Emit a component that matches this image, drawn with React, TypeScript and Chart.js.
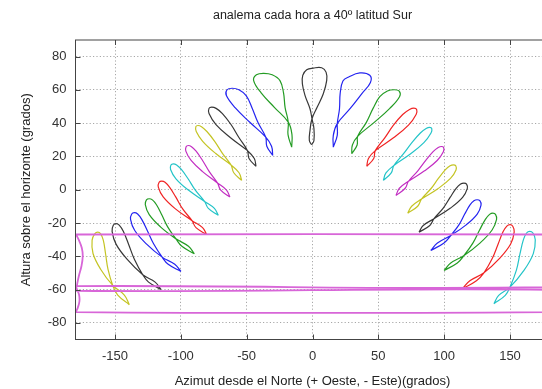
import React, { useEffect, useRef } from "react";
import { Chart, registerables } from "chart.js";
Chart.register(...registerables);

const titleText = "analema cada hora a 40º latitud Sur";
const xTitle = "Azimut desde el Norte (+ Oeste, - Este)(grados)";
const yTitle = "Altura sobre el horizonte (grados)";

const xTicks = [-150, -100, -50, 0, 50, 100, 150];
const yTicks = [-80, -60, -40, -20, 0, 20, 40, 60, 80];

// [azimut, altura], one analemma per hour
const h00 = [[-179.6,-26.9],[-177.6,-30.0],[-175.2,-35.0],[-174.5,-40.0],[-175.5,-46.0],[-177.5,-52.0],[-178.8,-57.0],[-179.6,-60.7],[179.6,-60.1],[178.5,-64.0],[177.8,-68.0],[178.6,-71.5],[179.6,-73.5],[-179.6,-73.5],[-178.3,-71.0],[-177.0,-67.0],[-177.3,-63.0],[-178.8,-60.0],[-179.6,-57.9],[179.6,-58.6],[178.5,-54.0],[177.2,-47.0],[176.8,-40.0],[177.5,-33.0],[178.8,-28.5],[179.6,-26.9],[-179.6,-26.9]];
const h01 = [[-139.1,-69.1],[-147.9,-63.3],[-151.7,-57.5],[-155.3,-47.9],[-157.2,-38.3],[-158.9,-30.3],[-160.9,-26.5],[-163.1,-25.5],[-165.4,-26.5],[-167.4,-30.3],[-166.7,-38.3],[-160.8,-47.9],[-151.7,-57.5],[-142.9,-63.3],[-139.1,-69.1]];
const h02 = [[-115.1,-59.9],[-124.5,-55.5],[-128.9,-51.1],[-135.2,-41.9],[-139.7,-32.7],[-143.7,-25.0],[-146.8,-21.3],[-149.2,-20.4],[-151.3,-21.3],[-152.2,-25.0],[-149.2,-32.7],[-140.7,-41.9],[-128.9,-51.1],[-119.5,-55.5],[-115.1,-59.9]];
const h03 = [[-99.9,-49.1],[-109.6,-44.8],[-114.2,-40.5],[-120.7,-32.5],[-125.5,-24.5],[-129.7,-17.8],[-132.8,-14.6],[-135.3,-13.8],[-137.3,-14.6],[-138.2,-17.8],[-135.0,-24.5],[-126.2,-32.5],[-114.2,-40.5],[-104.6,-44.8],[-99.9,-49.1]];
const h04 = [[-89.7,-38.5],[-99.2,-34.0],[-103.7,-29.5],[-110.0,-22.3],[-114.5,-15.0],[-118.5,-9.0],[-121.6,-6.1],[-124.0,-5.4],[-126.1,-6.1],[-127.0,-9.0],[-124.0,-15.0],[-115.5,-22.3],[-103.7,-29.5],[-94.2,-34.0],[-89.7,-38.5]];
const h05 = [[-80.4,-26.9],[-88.5,-22.8],[-91.5,-18.6],[-98.6,-11.5],[-103.9,-4.3],[-108.6,1.6],[-112.0,4.5],[-114.5,5.2],[-116.5,4.5],[-117.1,1.6],[-113.4,-4.3],[-104.1,-11.5],[-91.5,-18.6],[-83.5,-22.8],[-80.4,-26.9]];
const h06 = [[-71.5,-15.4],[-79.1,-11.2],[-82.0,-7.0],[-89.0,-0.2],[-94.5,6.6],[-99.6,12.2],[-103.2,14.9],[-105.7,15.6],[-107.5,14.9],[-107.8,12.2],[-103.7,6.6],[-94.3,-0.2],[-82.0,-7.0],[-74.5,-11.2],[-71.5,-15.4]];
const h07 = [[-62.7,-4.4],[-69.7,-0.2],[-72.2,4.1],[-78.4,10.9],[-83.5,17.6],[-88.4,23.2],[-91.9,25.9],[-94.3,26.6],[-96.0,25.9],[-96.2,23.2],[-92.2,17.6],[-83.5,10.9],[-72.2,4.1],[-65.3,-0.2],[-62.7,-4.4]];
const h08 = [[-53.8,5.6],[-59.8,10.2],[-61.8,14.8],[-68.4,21.9],[-74.3,29.1],[-80.2,35.0],[-84.3,37.9],[-87.0,38.6],[-88.6,37.9],[-88.3,35.0],[-83.4,29.1],[-73.7,21.9],[-61.8,14.8],[-55.8,10.2],[-53.8,5.6]];
const h09 = [[-42.9,14.0],[-48.2,18.8],[-49.4,23.5],[-55.9,31.4],[-61.9,39.2],[-68.4,45.8],[-73.2,48.9],[-76.5,49.7],[-78.6,48.9],[-78.6,45.8],[-73.3,39.2],[-62.5,31.4],[-49.4,23.5],[-44.2,18.8],[-42.9,14.0]];
const h10 = [[-30.2,20.6],[-34.7,26.1],[-35.5,31.6],[-41.4,40.4],[-45.9,49.2],[-50.4,56.6],[-55.9,60.1],[-61.0,61.0],[-64.9,60.1],[-65.4,56.6],[-58.6,49.2],[-47.4,40.4],[-35.5,31.6],[-31.1,26.1],[-30.2,20.6]];
const h11 = [[-15.8,25.6],[-18.6,33.1],[-18.4,40.6],[-20.8,49.4],[-22.0,58.2],[-24.7,65.6],[-30.6,69.1],[-37.0,70.0],[-42.6,69.1],[-44.7,65.6],[-39.0,58.2],[-28.8,49.4],[-18.4,40.6],[-15.6,33.1],[-15.8,25.6]];
const h12 = [[-0.6,27.0],[-2.4,29.6],[-1.9,35.6],[-0.4,42.7],[3.6,49.7],[8.2,57.7],[10.8,65.7],[10.3,70.7],[7.0,73.3],[0.6,73.1],[-4.4,72.1],[-7.4,68.7],[-7.7,63.7],[-5.7,56.7],[-1.9,48.7],[-0.4,42.7],[1.1,36.7],[1.1,29.6],[-0.6,27.0]];
const h13 = [[15.8,25.6],[15.8,32.7],[18.8,39.7],[28.5,48.7],[37.5,57.8],[44.0,64.5],[43.5,68.8],[36.0,70.2],[27.5,67.8],[23.1,65.3],[21.0,57.8],[20.5,48.7],[18.8,39.7],[18.8,32.7],[15.8,25.6]];
const h14 = [[29.8,21.6],[30.3,26.9],[34.3,32.1],[46.9,40.5],[58.7,48.9],[66.1,55.9],[65.9,59.3],[62.0,60.1],[56.9,59.3],[51.1,55.9],[46.0,48.9],[40.9,40.5],[34.3,32.1],[33.9,26.9],[29.8,21.6]];
const h15 = [[41.2,14.0],[42.5,18.8],[47.7,23.5],[61.5,31.2],[72.9,38.8],[78.7,45.2],[79.1,48.2],[77.0,49.0],[73.7,48.2],[68.5,45.2],[61.5,38.8],[54.9,31.2],[47.7,23.5],[46.5,18.8],[41.2,14.0]];
const h16 = [[53.8,5.6],[55.8,10.1],[61.8,14.6],[74.3,21.5],[84.6,28.3],[90.0,34.1],[90.6,36.8],[89.0,37.5],[86.3,36.8],[81.9,34.1],[75.5,28.3],[69.0,21.5],[61.8,14.6],[59.8,10.1],[53.8,5.6]];
const h17 = [[63.4,-3.4],[66.0,0.9],[72.9,5.1],[85.1,11.4],[94.7,17.6],[99.4,22.9],[99.6,25.4],[98.0,26.0],[95.5,25.4],[91.6,22.9],[86.0,17.6],[80.0,11.4],[72.9,5.1],[70.4,0.9],[63.4,-3.4]];
const h18 = [[72.3,-14.1],[75.3,-9.9],[82.8,-5.6],[95.2,0.6],[104.8,6.8],[109.0,11.9],[108.8,14.4],[107.0,15.0],[104.5,14.4],[100.8,11.9],[95.6,6.8],[89.9,0.6],[82.8,-5.6],[79.9,-9.9],[72.3,-14.1]];
const h19 = [[80.9,-25.5],[84.1,-21.5],[92.3,-17.4],[104.8,-11.0],[114.0,-4.6],[117.6,0.8],[117.0,3.4],[115.0,4.0],[112.5,3.4],[109.1,0.8],[104.5,-4.6],[99.3,-11.0],[92.3,-17.4],[89.1,-21.5],[80.9,-25.5]];
const h20 = [[89.8,-36.5],[94.9,-32.0],[105.0,-27.5],[116.7,-21.1],[125.1,-14.6],[128.0,-9.2],[127.1,-6.6],[125.0,-6.0],[122.6,-6.6],[119.5,-9.2],[115.6,-14.6],[111.2,-21.1],[105.0,-27.5],[99.9,-32.0],[89.8,-36.5]];
const h21 = [[99.9,-48.5],[105.0,-44.0],[115.1,-39.5],[127.4,-31.9],[136.4,-24.2],[139.8,-17.8],[139.0,-14.8],[137.0,-14.0],[134.5,-14.8],[131.3,-17.8],[126.9,-24.2],[121.9,-31.9],[115.1,-39.5],[110.0,-44.0],[99.9,-48.5]];
const h22 = [[113.8,-59.5],[119.5,-54.7],[130.2,-49.9],[142.1,-41.2],[150.5,-32.6],[153.2,-25.3],[152.1,-21.9],[150.0,-21.0],[147.6,-21.9],[144.7,-25.3],[141.0,-32.6],[136.6,-41.2],[130.2,-49.9],[124.5,-54.7],[113.8,-59.5]];
const h23 = [[137.8,-68.5],[141.4,-63.5],[150.0,-58.5],[160.6,-48.5],[167.7,-38.4],[169.2,-30.0],[167.4,-26.0],[165.0,-25.0],[162.6,-26.0],[160.2,-30.0],[157.6,-38.4],[154.8,-48.5],[150.0,-58.5],[146.4,-63.5],[137.8,-68.5]];

const hourSeries = [h00, h01, h02, h03, h04, h05, h06, h07, h08, h09, h10, h11, h12, h13, h14, h15, h16, h17, h18, h19, h20, h21, h22, h23];

const RED = "#f02424";
const GREEN = "#249c24";
const BLUE = "#2424f0";
const MAGENTA = "#c22ec2";
const CYAN = "#24c4c8";
const YELLOW = "#c4c424";
const BLACK = "#383838";
const MIDNIGHT = "#d866d8";
const hourColors = [MIDNIGHT, YELLOW, BLACK, BLUE, GREEN, RED, CYAN, MAGENTA, YELLOW, BLACK, BLUE, GREEN, BLACK, BLUE, GREEN, RED, CYAN, MAGENTA, YELLOW, BLACK, BLUE, GREEN, RED, CYAN];

const FONT = "'Liberation Sans', Arial, Helvetica, sans-serif";

const framePlugin = {
  id: "gnuFrame",
  afterDatasetsDraw(chart: any) {
    const { ctx, chartArea: a, scales } = chart;
    ctx.save();
    ctx.strokeStyle = "#444";
    ctx.lineWidth = 1;
    ctx.strokeRect(a.left, a.top, a.right - a.left, a.bottom - a.top);
    ctx.beginPath();
    for (const v of xTicks) {
      const px = Math.round(scales.x.getPixelForValue(v)) + 0.5;
      ctx.moveTo(px, a.bottom);
      ctx.lineTo(px, a.bottom - 5);
      ctx.moveTo(px, a.top);
      ctx.lineTo(px, a.top + 5);
    }
    for (const v of yTicks) {
      const py = Math.round(scales.y.getPixelForValue(v)) + 0.5;
      ctx.moveTo(a.left, py);
      ctx.lineTo(a.left + 5, py);
      ctx.moveTo(a.right, py);
      ctx.lineTo(a.right - 5, py);
    }
    ctx.stroke();
    ctx.restore();
  },
};

export default function App() {
  const ref = useRef<HTMLCanvasElement>(null);
  useEffect(() => {
    document.body.style.overflow = "hidden";
    const datasets = hourSeries.map((pts, i) => ({
      label: "h" + i,
      data: pts.map((p) => ({ x: p[0], y: p[1] })),
      showLine: true,
      borderColor: hourColors[i],
      backgroundColor: hourColors[i],
      borderWidth: i === 0 ? 1.8 : 1.2,
      pointRadius: 0,
      tension: 0.4,
      fill: false,
    }));
    const chart = new Chart(ref.current as HTMLCanvasElement, {
      type: "scatter",
      data: { datasets },
      options: {
        responsive: false,
        animation: false,
        layout: { padding: { left: 0, right: 10.5, top: 0, bottom: 0 } },
        plugins: {
          legend: { display: false },
          tooltip: { enabled: false },
          title: {
            display: true,
            text: titleText,
            fullSize: false,
            color: "#222",
            font: { family: FONT, size: 12.5, weight: "normal", lineHeight: 1.2 },
            padding: { top: 8.5, bottom: 16.5 },
          },
        },
        scales: {
          x: {
            type: "linear",
            min: -180,
            max: 180,
            afterBuildTicks: (s: any) => {
              s.ticks = xTicks.map((v) => ({ value: v }));
            },
            afterFit: (s: any) => {
              s.height = 49.5;
            },
            grid: { color: "#a8a8a8", lineWidth: 1, drawTicks: false },
            border: { display: false, dash: [1.2, 2.2] },
            ticks: { padding: 9, color: "#333", font: { family: FONT, size: 13 } },
            title: {
              display: true,
              text: xTitle,
              color: "#222",
              font: { family: FONT, size: 13, lineHeight: 1.2 },
              padding: { top: 0, bottom: 0 },
            },
          },
          y: {
            type: "linear",
            min: -90,
            max: 90,
            afterBuildTicks: (s: any) => {
              s.ticks = yTicks.map((v) => ({ value: v }));
            },
            afterFit: (s: any) => {
              s.width = 75.5;
            },
            grid: { color: "#a8a8a8", lineWidth: 1, drawTicks: false },
            border: { display: false, dash: [1.2, 2.2] },
            ticks: { padding: 9, color: "#333", font: { family: FONT, size: 13 } },
            title: {
              display: true,
              text: yTitle,
              color: "#222",
              font: { family: FONT, size: 13, lineHeight: 1.2 },
              padding: { top: 19, bottom: 0 },
            },
          },
        },
      } as any,
      plugins: [framePlugin],
    });
    return () => chart.destroy();
  }, []);
  return (
    <div style={{ position: "fixed", left: 0, top: 0, width: 560, height: 389, background: "#fff" }}>
      <canvas ref={ref} width={560} height={389} style={{ display: "block" }} />
    </div>
  );
}
